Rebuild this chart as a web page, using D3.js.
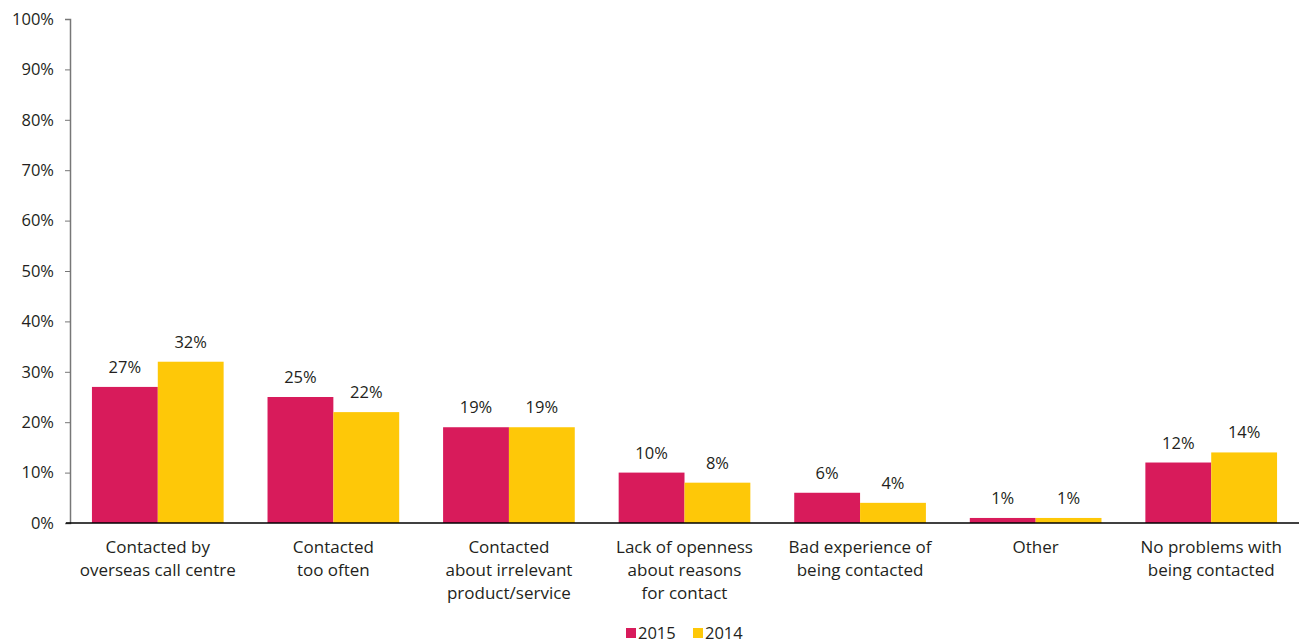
<!DOCTYPE html>
<html>
<head>
<meta charset="utf-8">
<script src="https://cdn.jsdelivr.net/npm/d3@7"></script>
<style>
  body { margin: 0; background: #fff; }
  svg text { font-family: "Open Sans", "Noto Sans", sans-serif; fill: #231f20; }
</style>
</head>
<body>
<svg id="root"></svg>
<script>
var width = 1306,
    height = 644;

var categories = [
  ['Contacted by', 'overseas call centre'],
  ['Contacted', 'too often'],
  ['Contacted', 'about irrelevant', 'product/service'],
  ['Lack of openness', 'about reasons', 'for contact'],
  ['Bad experience of', 'being contacted'],
  ['Other'],
  ['No problems with', 'being contacted']
];
var series = ['2015', '2014'];
var values2015 = [27, 25, 19, 10, 6, 1, 12];
var values2014 = [32, 22, 19, 8, 4, 1, 14];
var yTicks = [0, 10, 20, 30, 40, 50, 60, 70, 80, 90, 100];
var colors = ['#d81b5b', '#fec808'];

var root = d3.select('#root')
    .attr('width', width)
    .attr('height', height);

var x = d3.scaleBand()
    .domain(d3.range(categories.length))
    .range([70, 1299])
    .paddingInner(0.25)
    .paddingOuter(0.125);

var xs = d3.scaleBand()
    .domain(series)
    .range([0, x.bandwidth()]);

var y = d3.scaleLinear()
    .domain([0, 100])
    .range([523, 19]);

// y axis
var yAxis = root.append('g')
    .attr('transform', 'translate(70,0)')
    .call(d3.axisLeft(y).tickValues(yTicks).tickSize(5).tickPadding(11)
        .tickFormat(function(d) { return d + '%'; }));
yAxis.select('.domain').attr('stroke', '#777').attr('stroke-width', 1.5);
yAxis.selectAll('.tick line').attr('stroke', '#777');
yAxis.selectAll('.tick text')
    .style('font-size', '16.5px')
    .attr('fill', '#231f20');

// bars
var data = [];
categories.forEach(function(c, i) {
  data.push({ i: i, s: '2015', v: values2015[i] });
  data.push({ i: i, s: '2014', v: values2014[i] });
});

root.selectAll('.bar')
  .data(data)
  .enter()
    .append('rect')
    .attr('class', 'bar')
    .attr('x', function(d) { return x(d.i) + xs(d.s); })
    .attr('y', function(d) { return y(d.v); })
    .attr('width', xs.bandwidth())
    .attr('height', function(d) { return y(0) - y(d.v); })
    .attr('fill', function(d) { return colors[series.indexOf(d.s)]; });

root.selectAll('.val')
  .data(data)
  .enter()
    .append('text')
    .attr('class', 'val')
    .attr('x', function(d) { return x(d.i) + xs(d.s) + xs.bandwidth() / 2; })
    .attr('y', function(d) { return y(d.v) - 14; })
    .attr('text-anchor', 'middle')
    .style('font-size', '16.5px')
    .text(function(d) { return d.v + '%'; });

// x axis line
root.append('line')
    .attr('x1', 66).attr('x2', 1299)
    .attr('y1', y(0)).attr('y2', y(0))
    .attr('stroke', '#000')
    .attr('stroke-width', 1.5);

// category labels
var cat = root.selectAll('.cat')
  .data(categories)
  .enter()
    .append('text')
    .attr('class', 'cat')
    .attr('text-anchor', 'middle')
    .style('font-size', '17px');
cat.selectAll('tspan')
  .data(function(d, i) { return d.map(function(t) { return { t: t, i: i }; }); })
  .enter()
    .append('tspan')
    .attr('x', function(d) { return x(d.i) + x.bandwidth() / 2; })
    .attr('y', function(d, j) { return 553 + j * 23; })
    .text(function(d) { return d.t; });

// legend
var legend = root.append('g');
var lx = [626, 693];
series.forEach(function(s, k) {
  legend.append('rect')
      .attr('x', lx[k]).attr('y', 628)
      .attr('width', 10).attr('height', 10)
      .attr('fill', colors[k]);
  legend.append('text')
      .attr('x', lx[k] + 12).attr('y', 639)
      .style('font-size', '16.5px')
      .text(s);
});
</script>
</body>
</html>
